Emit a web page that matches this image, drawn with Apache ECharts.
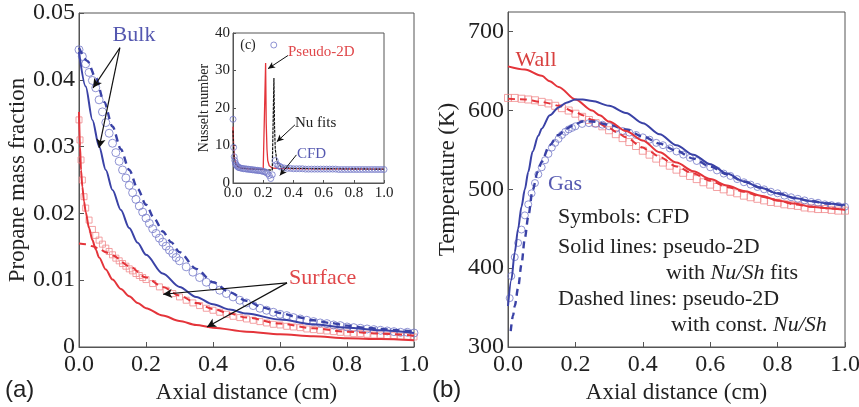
<!DOCTYPE html>
<html><head><meta charset="utf-8">
<script src="https://cdn.jsdelivr.net/npm/echarts@6/dist/echarts.min.js"></script>
<style>html,body{margin:0;padding:0;background:#fff}#c{width:859px;height:407px}</style>
</head><body><div id="c"></div>
<script>
// ---------- Panel (a): propane mass fraction ----------
const bulkCfdX = [0,0.01,0.02,0.03,0.04,0.05,0.06,0.07,0.08,0.09,0.10,0.11,0.12,0.13,0.14,0.15,0.16,0.17,0.18,0.19,0.20,0.21,0.22,0.23,0.24,0.25,0.26,0.27,0.28,0.29,0.30,
  0.32,0.34,0.36,0.38,0.40,0.42,0.44,0.46,0.48,0.50,0.52,0.54,0.56,0.58,0.60,0.62,0.64,0.66,0.68,0.70,0.72,0.74,0.76,0.78,0.80,0.82,0.84,0.86,0.88,0.90,0.92,0.94,0.96,0.98,1.00];
const bulkCfdY = [0.0445,0.0435,0.0424,0.0411,0.0399,0.0388,0.0370,0.0352,0.0336,0.0320,0.0305,0.0291,0.0278,0.0265,0.0253,0.0242,0.0231,0.0221,0.0211,0.0202,0.0193,0.0185,0.0177,0.0170,0.0163,0.0157,0.0151,0.0145,0.0140,0.0134,0.0129,
  0.0120,0.0112,0.0104,0.0097,0.0091,0.0085,0.0080,0.0075,0.0070,0.0066,0.0062,0.0058,0.0055,0.0052,0.0049,0.0047,0.0044,0.0042,0.0040,0.0038,0.0036,0.0035,0.0033,0.0032,0.0030,0.0029,0.0028,0.0027,0.0026,0.0025,0.0024,0.0023,0.0022,0.0022,0.0021];
const bulkFitX = [0,0.02,0.04,0.06,0.08,0.10,0.125,0.15,0.175,0.20,0.25,0.30,0.35,0.40,0.45,0.50,0.60,0.70,0.80,0.90,1.00];
const bulkFitY = [0.0442,0.0390,0.0340,0.0300,0.0265,0.0235,0.0205,0.0178,0.0156,0.0138,0.0110,0.0090,0.0075,0.0064,0.0056,0.0050,0.0041,0.0034,0.0029,0.0025,0.0021];
const bulkConstX = [0,0.025,0.05,0.075,0.10,0.125,0.15,0.175,0.20,0.225,0.25,0.275,0.30,0.35,0.40,0.45,0.50,0.55,0.60,0.65,0.70,0.75,0.80,0.85,0.90,0.95,1.00];
const bulkConstY = [0.0448,0.0428,0.0403,0.0367,0.0330,0.0296,0.0265,0.0237,0.0213,0.0192,0.0173,0.0157,0.0142,0.0117,0.0097,0.0082,0.0069,0.0059,0.0051,0.0045,0.0040,0.0036,0.0032,0.0029,0.0027,0.0025,0.0023];
const surfCfdX = [0,0.003,0.006,0.01,0.015,0.02,0.03,0.04,0.05,0.06,0.07,0.08,0.09,0.10,0.11,0.12,0.13,0.14,0.15,0.16,0.17,0.18,0.19,0.20,
  0.22,0.24,0.26,0.28,0.30,0.32,0.34,0.36,0.38,0.40,0.42,0.44,0.46,0.48,0.50,0.52,0.54,0.56,0.58,0.60,0.62,0.64,0.66,0.68,0.70,0.72,0.74,0.76,0.78,0.80,0.82,0.84,0.86,0.88,0.90,0.92,0.94,0.96,0.98,1.00];
const surfCfdY = [0.0340,0.0310,0.0280,0.0250,0.0225,0.0208,0.0190,0.0176,0.0167,0.0160,0.0154,0.0148,0.0143,0.0138,0.0133,0.0129,0.0125,0.0121,0.0117,0.0114,0.0110,0.0107,0.0104,0.0101,
  0.0095,0.0090,0.0085,0.0080,0.0075,0.0070,0.0066,0.0062,0.0058,0.0055,0.0052,0.0049,0.0046,0.0044,0.0042,0.0040,0.0038,0.0036,0.0034,0.0033,0.0031,0.0030,0.0029,0.0027,0.0026,0.0025,0.0024,0.0023,0.0022,0.0021,0.0020,0.0020,0.0019,0.0018,0.0018,0.0017,0.0017,0.0016,0.0016,0.0015];
const surfFitX = [0,0.003,0.006,0.01,0.015,0.02,0.03,0.04,0.05,0.06,0.08,0.10,0.125,0.15,0.175,0.20,0.25,0.30,0.35,0.40,0.50,0.60,0.70,0.80,0.90,1.00];
const surfFitY = [0.0352,0.0300,0.0265,0.0240,0.0218,0.0202,0.0178,0.0160,0.0146,0.0134,0.0116,0.0101,0.0087,0.0076,0.0066,0.0058,0.0047,0.0039,0.0033,0.0029,0.0023,0.0019,0.0016,0.0013,0.0012,0.0010];
const surfConstX = [0,0.02,0.04,0.06,0.08,0.10,0.15,0.20,0.25,0.30,0.35,0.40,0.45,0.50,0.60,0.70,0.80,0.90,1.00];
const surfConstY = [0.0155,0.0154,0.0151,0.0147,0.0142,0.0137,0.0121,0.0104,0.0090,0.0077,0.0066,0.0057,0.0050,0.0044,0.0035,0.0028,0.0023,0.0020,0.0017];
const massTicksX = [0, 1, 0.2];      // min, max, step
const massTicksY = [0, 0.05, 0.01];

// ---------- Inset (c): Nusselt number ----------
const nuCfdX = [0,0.004,0.008,0.012,0.016,0.02,0.025,0.03,0.035,0.04,
  0.05,0.06,0.07,0.08,0.09,0.10,0.11,0.12,0.13,0.14,0.15,0.16,0.17,0.18,0.19,0.20,0.21,0.22,0.23,0.24,0.25,0.26,0.27,0.28,0.29,0.30,0.31,0.32,
  0.34,0.36,0.38,0.40,0.42,0.44,0.46,0.48,0.50,0.52,0.54,0.56,0.58,0.60,0.62,0.64,0.66,0.68,0.70,0.72,0.74,0.76,0.78,0.80,0.82,0.84,0.86,0.88,0.90,0.92,0.94,0.96,0.98,1.00];
const nuCfdY = [17.0,9.5,7.0,6.0,5.3,4.9,4.6,4.4,4.2,4.1,
  4.0,3.9,3.8,3.8,3.7,3.7,3.6,3.6,3.5,3.5,3.4,3.4,3.3,3.3,3.2,3.1,3.0,2.8,2.5,2.0,1.2,2.2,36.8,6.0,5.0,4.6,4.4,4.2,
  4.0,3.9,3.9,3.8,3.8,3.8,3.8,3.7,3.7,3.7,3.7,3.7,3.7,3.7,3.7,3.7,3.7,3.7,3.6,3.6,3.6,3.6,3.6,3.6,3.6,3.6,3.6,3.6,3.6,3.6,3.6,3.6,3.6,3.6];
const nuPseudoX = [0,0.005,0.01,0.02,0.03,0.05,0.10,0.15,0.20,0.213,0.216,0.22,0.225,0.23,0.24,0.26,0.30,0.50,1.00];
const nuPseudoY = [15,9,6.5,5,4.4,4.0,3.8,3.7,3.6,3.6,32,16,9,6,4.6,4.0,3.9,3.8,3.7];
const nuFitsX = [0,0.005,0.01,0.02,0.05,0.10,0.20,0.26,0.268,0.271,0.275,0.28,0.29,0.30,0.32,0.40,1.00];
const nuFitsY = [14,8,6,4.8,4.0,3.8,3.6,3.4,3.4,28,15,9,6,5,4.3,3.9,3.7];
const nuTicksY = [0, 40, 10];

// ---------- Panel (b): temperature ----------
const wallFitX = [0,0.05,0.10,0.124,0.15,0.20,0.25,0.272,0.30,0.35,0.40,0.45,0.50,0.55,0.60,0.65,0.70,0.75,0.80,0.85,0.90,0.95,1.00];
const wallFitY = [656,652,644,637,630,614,600,594,586,574,562,547,534,523,513,505,498,492,486,482,478,476,474];
const wallConstX = [0,0.05,0.10,0.124,0.15,0.20,0.222,0.25,0.30,0.32,0.35,0.40,0.42,0.45,0.50,0.55,0.60,0.65,0.70,0.75,0.80,0.85,0.90,0.95,1.00];
const wallConstY = [615,614,611,609,606,598,594,588,578,573,566,553,548,541,529,520,511,503,497,491,486,481,478,476,474];
const wallCfdX = [0,0.02,0.04,0.06,0.08,0.10,0.12,0.14,0.16,0.18,0.20,0.22,0.24,0.26,0.28,0.30,0.32,0.34,0.36,0.38,0.40,0.42,0.44,0.46,0.48,0.50,
  0.52,0.54,0.56,0.58,0.60,0.62,0.64,0.66,0.68,0.70,0.72,0.74,0.76,0.78,0.80,0.82,0.84,0.86,0.88,0.90,0.92,0.94,0.96,0.98,1.00];
const wallCfdY = [616,616,615,614,613,611,609,606,603,600,596,592,588,584,580,575,570,565,560,555,549,544,539,534,530,525,
  521,517,513,509,506,503,500,497,495,492,490,488,486,484,483,481,480,479,477,476,475,475,474,473,473];
const gasFitX = [0,0.01,0.02,0.03,0.04,0.05,0.06,0.073,0.09,0.10,0.124,0.15,0.173,0.20,0.222,0.25,0.30,0.35,0.40,0.45,0.50,0.55,0.60,0.65,0.70,0.75,0.80,0.85,0.90,0.95,1.00];
const gasFitY = [352,385,420,450,478,500,522,548,568,577,594,604,610,614,614,612,606,597,584,570,556,544,532,520,510,502,495,489,485,482,480];
const gasConstX = [0.008,0.015,0.02,0.03,0.04,0.05,0.06,0.073,0.088,0.10,0.123,0.15,0.173,0.20,0.222,0.25,0.30,0.35,0.40,0.45,0.50,0.55,0.60,0.65,0.70,0.75,0.80,0.85,0.90,0.95,1.00];
const gasConstY = [320,340,352,375,405,438,465,499,522,535,556,569,577,583,586,586,582,576,567,558,549,539,529,519,510,502,495,489,485,482,479];
const gasCfdX = [0.005,0.01,0.02,0.03,0.04,0.05,0.06,0.07,0.08,0.09,0.10,0.11,0.12,0.13,0.14,0.15,0.16,0.17,0.18,0.19,0.20,0.22,0.24,0.26,0.28,0.30,0.32,0.34,
  0.36,0.38,0.40,0.42,0.44,0.46,0.48,0.50,0.52,0.54,0.56,0.58,0.60,0.62,0.64,0.66,0.68,0.70,0.72,0.74,0.76,0.78,0.80,0.82,0.84,0.86,0.88,0.90,0.92,0.94,0.96,0.98,1.00];
const gasCfdY = [362,390,414,432,449,467,481,495,508,519,528,537,545,553,559,564,569,573,576,578,580,583,584,583,582,580,577,574,
  572,569,566,563,559,556,552,548,544,540,536,532,528,524,520,517,513,509,506,503,500,497,495,492,490,488,486,484,483,481,480,479,478];
const tempTicksY = [300, 725, 100];

// ---------- Annotation arrows (data coordinates) ----------
const bulkArrows = [[[0.122,0.0448],[0.042,0.0388]],[[0.122,0.0448],[0.060,0.0298]]];
const surfArrows = [[[0.621,0.0096],[0.251,0.0079]],[[0.621,0.0096],[0.382,0.0030]]];
const insetArrows = [[[0.364,34],[0.232,30.5]],[[0.41,15.5],[0.29,11]],[[0.42,7.5],[0.31,2]]];

// ---------- styles ----------
const SERIF = '"Liberation Serif","Times New Roman",serif';
const SANS = '"Liberation Sans",Arial,sans-serif';
const BLUE = '#3a42a6', BLUE_M = '#7378c8', RED = '#e4343a', RED_M = '#f08a8c';
const AX = '#555';

function zip(xs, ys) { const n = Math.min(xs.length, ys.length); const o = []; for (let i = 0; i < n; i++) o.push([xs[i], ys[i]]); return o; }
function arrows(list) { return list.map(a => [{coord: a[0]}, {coord: a[1]}]); }

function xAx(gi, size, margin, name, gap) {
  return {gridIndex: gi, type: 'value', min: massTicksX[0], max: massTicksX[1], interval: massTicksX[2],
    axisLine: {show: true, lineStyle: {color: AX, width: 1}},
    axisTick: {show: true, inside: true, length: gi === 1 ? 3 : 5, lineStyle: {color: AX}},
    splitLine: {show: false},
    axisLabel: {fontFamily: SERIF, fontSize: size, color: '#222', margin: margin, formatter: v => v.toFixed(1)},
    name: name, nameLocation: 'middle', nameGap: gap,
    nameTextStyle: {fontFamily: SERIF, fontSize: 23, color: '#222'}};
}
function yAx(gi, t, size, fmt, name, gap, nsize, extra) {
  return Object.assign({gridIndex: gi, type: 'value', min: t[0], max: t[1], interval: t[2],
    axisLine: {show: true, lineStyle: {color: AX, width: 1}},
    axisTick: {show: true, inside: true, length: gi === 1 ? 3 : 5, lineStyle: {color: AX}},
    splitLine: {show: false},
    axisLabel: {fontFamily: SERIF, fontSize: size, color: '#222', margin: 4, formatter: fmt},
    name: name, nameLocation: 'middle', nameGap: gap,
    nameTextStyle: {fontFamily: SERIF, fontSize: nsize, color: '#222'}}, extra || {});
}
function line(gi, data, color, dashed, width, z) {
  return {type: 'line', xAxisIndex: gi, yAxisIndex: gi, data: data, symbol: 'none', showSymbol: false,
    smooth: 0.3, smoothMonotone: 'x', z: z || 3,
    lineStyle: {color: color, width: width || 2, type: dashed ? [7, 5] : 'solid'}, silent: true};
}
function scat(gi, data, color, sym, size, z) {
  return {type: 'scatter', xAxisIndex: gi, yAxisIndex: gi, data: data, symbol: sym, symbolSize: size, z: z || 2,
    itemStyle: {color: 'rgba(255,255,255,0)', borderColor: color, borderWidth: 1}, silent: true};
}
const ARROW = {silent: true, symbol: ['none', 'arrow'], symbolSize: [7, 9], label: {show: false},
  lineStyle: {color: '#111', width: 1.2, type: 'solid'}, emphasis: {disabled: true}};

const chart = echarts.init(document.getElementById('c'), null, {renderer: 'canvas'});
const txt = (x, y, s, size, color, align, fam, rich) => ({type: 'text', x: x, y: y, z: 100, silent: true,
  style: {text: s, fontFamily: fam || SERIF, fontSize: size, fill: color, align: align || 'left', verticalAlign: 'middle', rich: rich}});
const IT = {i: {fontFamily: SERIF, fontSize: 22, fontStyle: 'italic', fill: '#222'}};

const option = {
  animation: false,
  backgroundColor: '#fff',
  grid: [
    {left: 79, top: 13, width: 335, height: 334, show: true, borderColor: AX, borderWidth: 1, outerBoundsMode: 'none'},
    {left: 233, top: 33, width: 151, height: 150, show: true, borderColor: AX, borderWidth: 1, backgroundColor: '#fff', outerBoundsMode: 'none'},
    {left: 508, top: 12, width: 337, height: 335, show: true, borderColor: AX, borderWidth: 1, outerBoundsMode: 'none'}
  ],
  xAxis: [xAx(0, 24, 6, 'Axial distance (cm)', 31), xAx(1, 15, 3, '', 0), xAx(2, 24, 6, 'Axial distance (cm)', 31)],
  yAxis: [
    yAx(0, massTicksY, 24, v => v === 0 ? '0' : v.toFixed(2), 'Propane mass fraction', 47, 23),
    yAx(1, nuTicksY, 15, v => String(v), 'Nusselt number', 19, 14, {axisLabel: {fontFamily: SERIF, fontSize: 15, color: '#222', margin: 3}}),
    yAx(2, tempTicksY, 24, v => String(v), 'Temperature (K)', 49, 23, {axisLabel: {fontFamily: SERIF, fontSize: 24, color: '#222', margin: 4, showMaxLabel: false}})
  ],
  series: [
    // panel (a)
    scat(0, zip(surfCfdX, surfCfdY), RED_M, 'rect', 6, 2),
    scat(0, zip(bulkCfdX, bulkCfdY), BLUE_M, 'circle', 8, 2),
    line(0, zip(surfConstX, surfConstY), RED, true, 2, 3),
    line(0, zip(bulkConstX, bulkConstY), BLUE, true, 2.4, 3),
    line(0, zip(bulkFitX, bulkFitY), BLUE, false, 2, 4),
    Object.assign(line(0, zip(surfFitX, surfFitY), RED, false, 2, 4), {markLine: Object.assign({data: arrows(bulkArrows.concat(surfArrows))}, ARROW)}),
    // inset (c)
    Object.assign(line(1, zip(nuPseudoX, nuPseudoY), RED, false, 1.3, 3), {smooth: false}),
    Object.assign(line(1, zip(nuFitsX, nuFitsY), '#111', false, 1.2, 3), {smooth: false, lineStyle: {color: '#111', width: 1.2, type: [3, 1]}}),
    Object.assign(scat(1, zip(nuCfdX, nuCfdY), BLUE_M, 'circle', 6, 4), {markLine: Object.assign({}, ARROW, {data: arrows(insetArrows), symbolSize: [5, 7], lineStyle: {color: '#111', width: 1, type: 'solid'}})}),
    // panel (b)
    scat(2, zip(wallCfdX, wallCfdY), RED_M, 'rect', 7, 2),
    scat(2, zip(gasCfdX, gasCfdY), BLUE_M, 'circle', 7, 2),
    line(2, zip(wallConstX, wallConstY), RED, true, 2, 3),
    line(2, zip(gasConstX, gasConstY), BLUE, true, 2.4, 3),
    line(2, zip(wallFitX, wallFitY), RED, false, 2, 4),
    line(2, zip(gasFitX, gasFitY), BLUE, false, 2, 4)
  ],
  graphic: [
    txt(134, 35, 'Bulk', 22, '#5558b0', 'center'),
    txt(289, 278, 'Surface', 22, '#e0474a'),
    txt(248, 45, '(c)', 14, '#222', 'center'),
    txt(288, 52, 'Pseudo-2D', 15, '#e0474a'),
    txt(295, 123, 'Nu fits', 15, '#222'),
    txt(297, 154, 'CFD', 15, '#5558b0'),
    txt(536, 60, 'Wall', 22, '#d8403f', 'center'),
    txt(565, 184, 'Gas', 22, '#5558b0', 'center'),
    txt(558, 217, 'Symbols: CFD', 22, '#222'),
    txt(558, 247, 'Solid lines: pseudo-2D', 22, '#222'),
    txt(666, 273, 'with {i|Nu/Sh} fits', 22, '#222', 'left', SERIF, IT),
    txt(558, 299, 'Dashed lines: pseudo-2D', 22, '#222'),
    txt(671, 325, 'with const. {i|Nu/Sh}', 22, '#222', 'left', SERIF, IT),
    txt(5, 390, '(a)', 24, '#222', 'left', SANS),
    txt(432, 390, '(b)', 24, '#222', 'left', SANS)
  ]
};
chart.setOption(option);
</script></body></html>
